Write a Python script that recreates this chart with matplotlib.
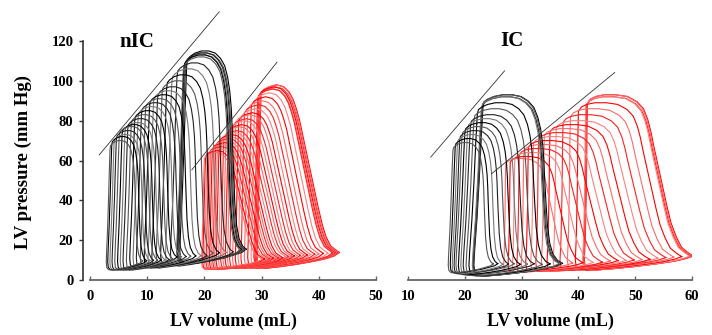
import numpy as np
import matplotlib
matplotlib.use("Agg")
import matplotlib.pyplot as plt

plt.rcParams['font.family'] = ['Liberation Serif', 'DejaVu Serif']
plt.rcParams['font.weight'] = 'bold'

# loop shape templates (u: 0 = end-systolic volume, 1 = end-diastolic volume,
# v: 0 = minimum pressure, 1 = peak pressure), counter-clockwise from end-diastole
tpl_black_u = [1.00, 0.94, 0.88, 0.84, 0.81, 0.79, 0.775, 0.765, 0.75, 0.725, 0.69, 0.64, 0.57, 0.48,
               0.37, 0.25, 0.14, 0.06, 0.015, 0.0, -0.02, -0.045, -0.075, -0.105, -0.115, -0.10, -0.05,
               0.04, 0.25, 0.45, 0.65, 0.82, 0.93, 1.00]
tpl_black_v = [0.07, 0.085, 0.12, 0.18, 0.28, 0.42, 0.54, 0.64, 0.73, 0.81, 0.875, 0.93, 0.965, 0.99,
               1.0, 1.0, 0.99, 0.975, 0.96, 0.93, 0.78, 0.55, 0.32, 0.14, 0.06, 0.02, 0.004,
               0.0, 0.008, 0.018, 0.03, 0.045, 0.055, 0.07]
tpl_red_a_u = [1.00, 0.95, 0.89, 0.83, 0.78, 0.73, 0.68, 0.63, 0.58, 0.53, 0.49, 0.45, 0.41, 0.36, 0.29,
               0.20, 0.11, 0.04, 0.0, -0.01, -0.025, -0.04, -0.05, -0.035, 0.0, 0.08, 0.25, 0.45,
               0.65, 0.82, 0.93, 1.00]
tpl_red_a_v = [0.085, 0.10, 0.12, 0.17, 0.24, 0.33, 0.43, 0.53, 0.63, 0.73, 0.81, 0.87, 0.92, 0.96, 0.99,
               1.0, 0.99, 0.975, 0.95, 0.80, 0.50, 0.20, 0.06, 0.015, 0.0, 0.0, 0.008, 0.02,
               0.035, 0.05, 0.065, 0.085]
tpl_red_b_u = [1.00, 0.95, 0.89, 0.84, 0.79, 0.75, 0.71, 0.67, 0.63, 0.60, 0.57, 0.53, 0.47, 0.38, 0.27,
               0.16, 0.08, 0.03, 0.0, -0.005, -0.01, -0.02, -0.03, -0.02, 0.0, 0.08, 0.25, 0.45,
               0.65, 0.82, 0.93, 1.00]
tpl_red_b_v = [0.08, 0.10, 0.13, 0.19, 0.27, 0.37, 0.48, 0.59, 0.70, 0.79, 0.86, 0.92, 0.96, 0.99, 1.0,
               1.0, 0.99, 0.975, 0.95, 0.80, 0.50, 0.20, 0.06, 0.015, 0.0, 0.0, 0.008, 0.02,
               0.035, 0.05, 0.065, 0.08]

# nIC, black loops
nic_b_esv = [16.9, 16.7, 16.6, 16.5, 16.4, 16.3, 15.2, 14.3, 13.4, 12.6, 11.8, 11.1, 10.4, 9.7, 9.0,
             8.4, 7.8, 7.2, 6.6, 6.1, 5.6, 5.1, 4.6, 4.2, 3.8, 3.5]
nic_b_edv = [27.3, 27.1, 26.9, 26.7, 26.5, 26.3, 25.0, 23.8, 22.6, 21.5, 20.4, 19.4, 18.5, 17.6, 16.8,
             16.0, 15.2, 14.5, 13.8, 13.1, 12.4, 11.8, 11.1, 10.5, 9.9, 9.2]
nic_b_pmax = [115, 114, 114, 113, 113, 112, 109, 106, 103, 100, 97, 95, 93, 91, 89, 87, 85, 83, 81, 79,
              78, 77, 75, 73, 72, 70]
nic_b_pmin = [8, 8, 8, 8, 8, 8, 7, 7, 7, 7, 6, 6, 6, 6, 6, 6, 6, 5, 5, 5, 5, 5, 5, 5, 5, 5]

# nIC, red loops
nic_r_esv = [29.9, 29.8, 29.7, 29.6, 29.5, 29.4, 29.3, 28.8, 28.2, 27.6, 27.0, 26.5, 26.0, 25.5, 25.0,
             24.6, 24.2, 23.8, 23.4, 23.0, 22.6, 22.3, 22.0, 21.7, 21.4, 21.1, 20.8, 20.5, 20.2, 20.0]
nic_r_edv = [43.6, 43.4, 43.2, 43.0, 42.8, 42.6, 42.4, 41.6, 40.8, 40.0, 39.3, 38.6, 38.0, 37.4, 36.8,
             36.2, 35.7, 35.2, 34.7, 34.2, 33.7, 33.3, 32.9, 32.5, 32.1, 31.7, 31.3, 30.9, 30.5, 30.1]
nic_r_pmax = [98, 98, 97, 97, 97, 96, 96, 94, 92, 90, 88, 86, 84, 83, 81, 80, 78, 77, 75, 74, 73, 72, 71,
              70, 69, 68, 67, 66, 65, 64]
nic_r_pmin = [6] * 10 + [6] * 10 + [5.5] * 10

# IC, black loops
ic_b_esv = [23.2, 23.1, 23.0, 22.9, 22.2, 21.6, 21.0, 20.5, 20.0, 19.5, 19.1, 18.7, 18.3, 17.9]
ic_b_edv = [37.2, 37.0, 36.8, 36.6, 35.0, 33.6, 32.2, 31.0, 29.8, 28.7, 27.7, 26.7, 25.8, 25.0]
ic_b_pmax = [93, 93, 92, 92, 89, 86, 83, 81, 79, 77, 75, 73, 71, 69]
ic_b_pmin = [2, 2, 2, 2, 2, 2, 2.5, 2.5, 2.5, 3, 3, 3, 3.5, 3.5]

# IC, red loops
ic_r_esv = [41.6, 41.5, 41.4, 41.3, 40.0, 38.6, 37.3, 36.1, 35.0, 34.0, 33.0, 32.1, 31.2, 30.4, 29.6,
            28.8, 28.0, 27.2]
ic_r_edv = [60.2, 60.0, 59.8, 59.6, 58.2, 56.8, 55.4, 54.0, 52.6, 51.2, 49.8, 48.4, 47.0, 45.6, 44.2,
            42.6, 40.8, 39.0]
ic_r_pmax = [93, 93, 92, 92, 89, 86, 83, 80, 78, 76, 74, 72, 70, 68, 66, 64, 62, 61]
ic_r_pmin = [5, 5, 5, 5, 5, 5, 5, 5, 4.5, 4.5, 4.5, 4.5, 4.5, 4.5, 4, 4, 4, 4]

# ESPVR lines (volume, pressure) end points
nic_line1 = ([1.6, 22.6], [62.8, 134.7])
nic_line2 = ([17.8, 32.7], [55.3, 109.4])
ic_line1 = ([14.0, 27.0], [61.7, 105.0])
ic_line2 = ([24.7, 46.4], [53.3, 104.2])


def draw_loops(ax, tu, tv, esv, edv, pmax, pmin, colors):
    tu = np.array(tu)
    tv = np.array(tv)
    for i in range(len(esv)):
        vol = esv[i] + tu * (edv[i] - esv[i])
        prs = pmin[i] + tv * (pmax[i] - pmin[i])
        ax.plot(vol, prs, color=colors[i % len(colors)], lw=0.8, solid_joinstyle='round')


fig = plt.figure(figsize=(7.12, 3.35), dpi=100)
ax1 = fig.add_axes([90 / 712, 55 / 335, 286 / 712, 239 / 335])
ax2 = fig.add_axes([408 / 712, 55 / 335, 284 / 712, 239 / 335])

black_cols = ['#000000', '#555555', '#222222', '#777777']
red_cols = ['#ff0000', '#ff6a6a', '#ff2020', '#ff8080']

draw_loops(ax1, tpl_red_a_u, tpl_red_a_v, nic_r_esv, nic_r_edv, nic_r_pmax, nic_r_pmin, red_cols)
draw_loops(ax1, tpl_black_u, tpl_black_v, nic_b_esv, nic_b_edv, nic_b_pmax, nic_b_pmin, black_cols)
draw_loops(ax2, tpl_red_b_u, tpl_red_b_v, ic_r_esv, ic_r_edv, ic_r_pmax, ic_r_pmin, red_cols)
draw_loops(ax2, tpl_black_u, tpl_black_v, ic_b_esv, ic_b_edv, ic_b_pmax, ic_b_pmin, black_cols)

for ax, lines in ((ax1, (nic_line1, nic_line2)), (ax2, (ic_line1, ic_line2))):
    for xs, ys in lines:
        ax.plot(xs, ys, color='#333333', lw=0.6, clip_on=False)

for ax in (ax1, ax2):
    ax.set_ylim(0, 120)
    ax.spines['top'].set_visible(False)
    ax.spines['right'].set_visible(False)
    ax.spines['bottom'].set_color('#666666')
    ax.spines['bottom'].set_linewidth(1.3)
    ax.tick_params(axis='x', direction='in', length=3, width=1, color='#666666',
                   labelsize=10.5, pad=7)

ax1.set_xlim(0, 50)
ax1.set_xticks([0, 10, 20, 30, 40, 50])
ax1.set_yticks([0, 20, 40, 60, 80, 100, 120])
ax1.spines['left'].set_position(('outward', 5))
ax1.spines['left'].set_color('#333333')
ax1.spines['left'].set_linewidth(1.2)
ax1.tick_params(axis='y', direction='out', length=3, width=1, color='#333333',
                labelsize=10.5, pad=4)

ax2.set_xlim(10, 60)
ax2.set_xticks([10, 20, 30, 40, 50, 60])
ax2.spines['left'].set_visible(False)
ax2.set_yticks([])

for ax in (ax1, ax2):
    for lab in ax.get_xticklabels() + ax.get_yticklabels():
        lab.set_fontweight('bold')

fig.text(233 / 712, 1 - 321 / 335, 'LV volume (mL)', ha='center', va='center',
         fontsize=13, fontweight='bold')
fig.text(550 / 712, 1 - 321 / 335, 'LV volume (mL)', ha='center', va='center',
         fontsize=13, fontweight='bold')
fig.text(23 / 712, 1 - 162 / 335, 'LV pressure (mm Hg)', rotation=90, ha='center', va='center',
         fontsize=13.5, fontweight='bold')
fig.text(137 / 712, 1 - 42 / 335, 'nIC', ha='center', va='center', fontsize=15, fontweight='bold')
fig.text(512 / 712, 1 - 41 / 335, 'IC', ha='center', va='center', fontsize=15, fontweight='bold')

fig.savefig('out.png', dpi=100)
